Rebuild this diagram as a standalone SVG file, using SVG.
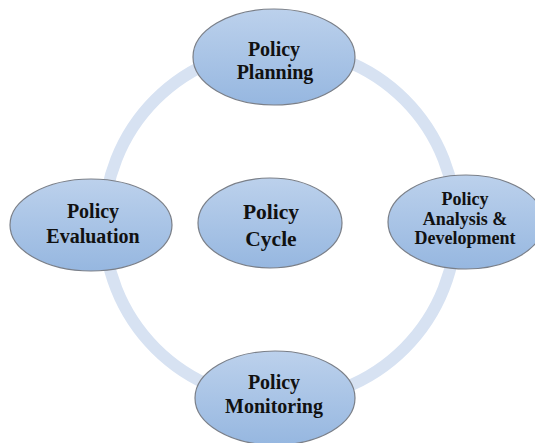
<svg xmlns="http://www.w3.org/2000/svg" width="535" height="443" viewBox="0 0 535 443">
<defs>
<linearGradient id="g" x1="0" y1="0" x2="0" y2="1">
<stop offset="0" stop-color="#bcd1ec"/>
<stop offset="1" stop-color="#96b7e0"/>
</linearGradient>
<style>
.n{fill:url(#g);stroke:#7a7f88;stroke-width:1.2}
.t{font-family:"Liberation Serif","Times New Roman",serif;font-weight:bold;font-size:20px;fill:#111;text-anchor:middle}
.s{font-size:18px}
.b{font-size:21.5px}
</style>
</defs>
<rect width="535" height="443" fill="#fff"/>
<g id="connectors">
<circle cx="280" cy="224" r="176" fill="none" stroke="#d7e2f2" stroke-width="12"/>
</g>
<g id="planning">
<ellipse class="n" cx="274" cy="57" rx="81" ry="48"/>
<text class="t" x="274" y="56">Policy</text>
<text class="t" x="275" y="79">Planning</text>
</g>
<g id="analysis">
<ellipse class="n" cx="466" cy="222" rx="78" ry="47"/>
<text class="t s" x="465" y="205">Policy</text>
<text class="t s" x="465" y="225">Analysis &amp;</text>
<text class="t s" x="465" y="244">Development</text>
</g>
<g id="evaluation">
<ellipse class="n" cx="91" cy="225" rx="81" ry="46"/>
<text class="t" x="93" y="218">Policy</text>
<text class="t" x="93" y="243">Evaluation</text>
</g>
<g id="cycle">
<ellipse class="n" cx="270" cy="223" rx="72" ry="45"/>
<text class="t b" x="271" y="219">Policy</text>
<text class="t b" x="271" y="246">Cycle</text>
</g>
<g id="monitoring">
<ellipse class="n" cx="275" cy="398" rx="80" ry="47"/>
<text class="t" x="274" y="389">Policy</text>
<text class="t" x="274" y="413">Monitoring</text>
</g>
</svg>
